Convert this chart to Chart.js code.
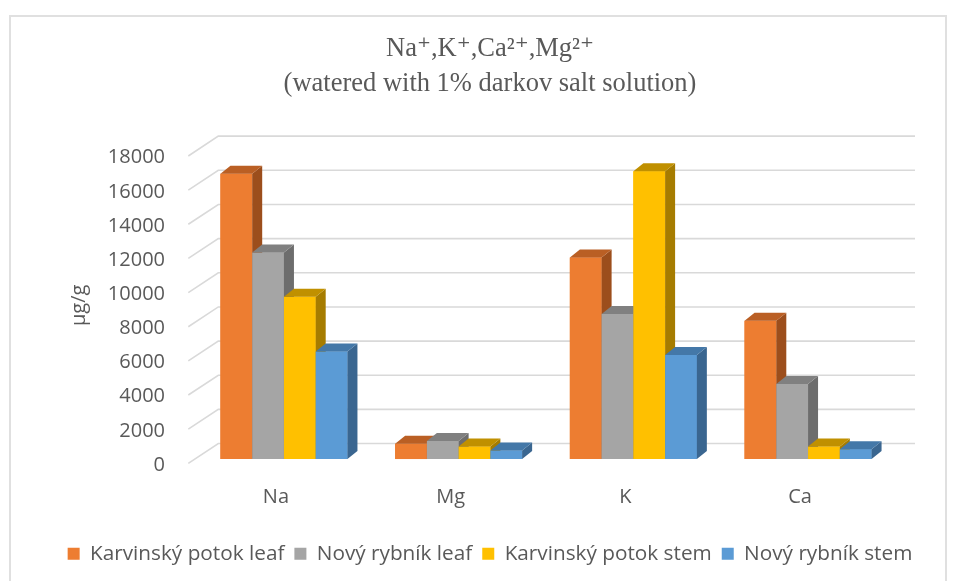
<!DOCTYPE html>
<html>
<head>
<meta charset="utf-8">
<script src="https://cdn.jsdelivr.net/npm/chart.js@4.4.1/dist/chart.umd.min.js"></script>
<style>
  body { margin: 0; background: #fff; }
  #wrap { position: relative; width: 955px; height: 581px; }
  #frame { position: absolute; left: 9px; top: 15px; width: 934px; height: 600px;
           border: 2px solid #e0e0e0; pointer-events: none; }
</style>
</head>
<body>
<div id="wrap">
  <canvas id="myChart" width="955" height="581"></canvas>
  <div id="frame"></div>
</div>
<script>
// data
const categories = [ 'Na', 'Mg', 'K', 'Ca' ];
const seriesNames = [ 'Karvinský potok leaf', 'Nový rybník leaf', 'Karvinský potok stem', 'Nový rybník stem' ];
const karvinskyLeaf = [ 16700, 900, 11800, 8100 ];
const novyLeaf = [ 12100, 1050, 8500, 4400 ];
const karvinskyStem = [ 9500, 730, 16850, 730 ];
const novyStem = [ 6300, 500, 6100, 570 ];
const yMin = 0, yMax = 18000, yStep = 2000;

const frontColors = [ '#ED7D31', '#A5A5A5', '#FFC000', '#5B9BD5' ];
const topColors = [ '#BA5F24', '#808080', '#C09000', '#4478A8' ];
const sideColors = [ '#9C4E1C', '#6D6D6D', '#A67C00', '#3A6690' ];

const ctx = document.getElementById( 'myChart' ).getContext( '2d' );
Chart.defaults.font.family = "'Open Sans', 'Liberation Sans', sans-serif";
Chart.defaults.color = '#595959';

// 3D look: back wall grid + side/top faces of the bars
const depth = { dx: 10, dy: -8 };
const wall3d = {
    id: 'wall3d',
    beforeDatasetsDraw( chart ) {
        const c = chart.ctx, a = chart.chartArea, ys = chart.scales.y;
        c.save();
        c.strokeStyle = '#d9d9d9';
        c.lineWidth = 1.6;
        ys.ticks.forEach( t => {
            const yb = ys.getPixelForValue( t.value );
            c.beginPath();
            c.moveTo( a.left - 8.3, yb + 4.3 );
            c.lineTo( a.left + 21.7, yb - 15.5 );
            c.lineTo( a.right + 19.6, yb - 15.5 );
            c.stroke();
        });
        c.restore();
    },
    afterDatasetsDraw( chart ) {
        const c = chart.ctx;
        // series left to right: front again, then side and top, so the next bar hides the side
        chart.data.datasets.forEach( ( ds, i ) => {
            chart.getDatasetMeta( i ).data.forEach( bar => {
                bar.draw( c );
                const p = bar.getProps( [ 'x', 'y', 'base', 'width' ], true );
                const l = p.x - p.width / 2, r = p.x + p.width / 2;
                c.save();
                c.fillStyle = ds.sideColor;
                c.beginPath();
                c.moveTo( r, p.y );
                c.lineTo( r + depth.dx, p.y + depth.dy );
                c.lineTo( r + depth.dx, p.base + depth.dy );
                c.lineTo( r, p.base );
                c.closePath();
                c.fill();
                c.fillStyle = ds.topColor;
                c.beginPath();
                c.moveTo( l, p.y );
                c.lineTo( l + depth.dx, p.y + depth.dy );
                c.lineTo( r + depth.dx, p.y + depth.dy );
                c.lineTo( r, p.y );
                c.closePath();
                c.fill();
                c.restore();
            });
        });
    }
};

const values = [ karvinskyLeaf, novyLeaf, karvinskyStem, novyStem ];

new Chart( ctx, {
    type: 'bar',
    data: {
        labels: categories,
        datasets: values.map( ( v, i ) => ({
            label: seriesNames[ i ],
            data: v,
            backgroundColor: frontColors[ i ],
            topColor: topColors[ i ],
            sideColor: sideColors[ i ],
            borderWidth: 0,
            barPercentage: 1,
            categoryPercentage: 0.727
        }))
    },
    options: {
        responsive: false,
        animation: false,
        layout: {
            padding: { left: 25, right: 0, top: 0, bottom: 7 }
        },
        plugins: {
            title: {
                display: true,
                text: [ 'Na⁺,K⁺,Ca²⁺,Mg²⁺', '(watered with 1% darkov salt solution)' ],
                font: { family: "'Liberation Serif', 'DejaVu Serif', serif", size: 26.5, weight: 'normal', lineHeight: 1.32 },
                color: '#595959',
                padding: { top: 31.5, bottom: 50.2 }
            },
            legend: {
                position: 'bottom',
                labels: {
                    boxWidth: 12,
                    boxHeight: 12,
                    padding: 10,
                    font: { size: 20.75 },
                    sort: ( a, b ) => a.datasetIndex - b.datasetIndex
                }
            },
            tooltip: { enabled: false }
        },
        scales: {
            x: {
                grid: { display: false, drawTicks: false },
                border: { display: false },
                ticks: { font: { size: 20 }, labelOffset: -8, padding: 26 },
                afterFit: s => { s.height = 74.2; }
            },
            y: {
                min: yMin,
                max: yMax,
                grid: { display: false, drawTicks: false },
                border: { display: false },
                ticks: { stepSize: yStep, font: { size: 20 }, labelOffset: 6, padding: 31.6,
                         callback: v => String( v ) },
                title: {
                    display: true,
                    text: 'µg/g',
                    font: { size: 20 },
                    padding: { top: 42, bottom: 0 }
                },
                afterFit: s => { s.width = 171.6; }
            },
            yRight: {
                position: 'right',
                min: yMin,
                max: yMax,
                grid: { display: false, drawTicks: false },
                border: { display: false },
                ticks: { display: false },
                afterFit: s => { s.width = 59.6; }
            }
        }
    },
    plugins: [ wall3d ]
});
</script>
</body>
</html>
